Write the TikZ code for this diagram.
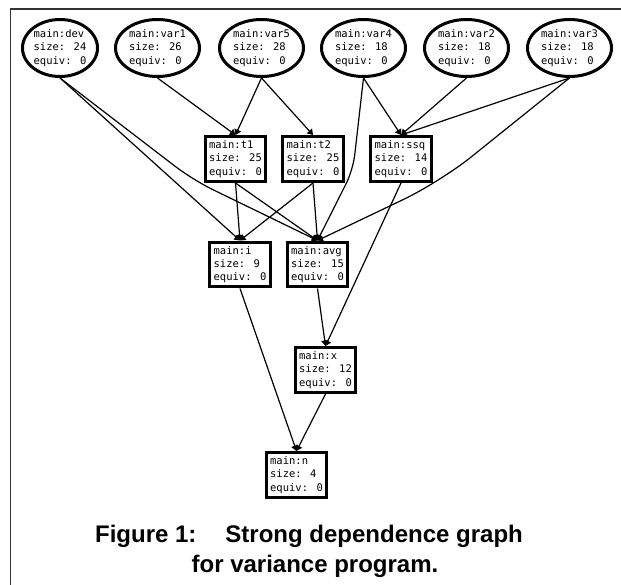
\documentclass[tikz,border=0pt]{standalone}
\usepackage{fontspec}
\newfontfamily\graphmono{DejaVu Sans Mono}
\newfontfamily\capsans{Liberation Sans}
\usetikzlibrary{arrows.meta,shapes.geometric}

\begin{document}
\begin{tikzpicture}[x=1pt,y=-1pt,
  labeltext/.style={font=\graphmono\fontsize{10.5}{13.3}\selectfont, align=left},
  var/.style={labeltext, ellipse, draw, line width=3pt, inner sep=0pt,
    minimum width=84pt, minimum height=57pt},
  stmt/.style={labeltext, rectangle, draw, line width=3.2pt,
    inner xsep=4pt, inner ysep=4pt},
  dep/.style={line width=1.2pt, -{Triangle[length=5.5pt,width=7pt]}},
  captionline/.style={anchor=base, inner sep=0pt,
    font=\capsans\bfseries\fontsize{24}{30}\selectfont},
]
\useasboundingbox (0,0) rectangle (621,585);

% page frame (top and left rules)
\draw[line width=1.2pt, black!80] (10.5,585) -- (10.5,9) -- (621,9);

% input variables
\node[var, minimum width=75pt] (dev) at (60,48) {main:dev\\size: 24\\equiv: 0};
\node[var] (var1) at (157.5,48) {main:var1\\size: 26\\equiv: 0};
\node[var] (var5) at (261.5,48) {main:var5\\size: 28\\equiv: 0};
\node[var] (var4) at (363.5,48) {main:var4\\size: 18\\equiv: 0};
\node[var] (var2) at (466.5,48) {main:var2\\size: 18\\equiv: 0};
\node[var] (var3) at (569.5,48) {main:var3\\size: 18\\equiv: 0};

% intermediate slices
\node[stmt] (t1)  at (235.5,159) {main:t1\\size: 25\\equiv: 0};
\node[stmt] (t2)  at (313,159)   {main:t2\\size: 25\\equiv: 0};
\node[stmt] (ssq) at (401,159)   {main:ssq\\size: 14\\equiv: 0};
\node[stmt] (i)   at (240,264.5) {main:i\\size: 9\\equiv: 0};
\node[stmt] (avg) at (317.5,264.5) {main:avg\\size: 15\\equiv: 0};
\node[stmt] (x)   at (325.5,370) {main:x\\size: 12\\equiv: 0};
\node[stmt] (n)   at (296.5,475) {main:n\\size: 4\\equiv: 0};

% bend points of the routed edges
\coordinate (bendA) at (193,180);
\coordinate (bendB) at (353,170);
\coordinate (bendC) at (440,182);

% dependences
\draw[dep] (dev.south) -- (i.north);
\draw[dep, rounded corners=22pt] (dev.south) -- (bendA) -- (avg.north);
\draw[dep] (var1.south) -- (t1.north);
\draw[dep] (var5.south) -- (t1.north);
\draw[dep] (var5.south) -- (t2.north);
\draw[dep, rounded corners=15pt] (var4.south) -- (bendB) -- (avg.north);
\draw[dep] (var4.south) -- (ssq.north);
\draw[dep] (var2.south) -- (ssq.north);
\draw[dep] (var3.south) -- (ssq.north);
\draw[dep, rounded corners=40pt] (var3.south) -- (bendC) -- (avg.north);
\draw[dep] (t1.south) -- (i.north);
\draw[dep] (t1.south) -- (avg.north);
\draw[dep] (t2.south) -- (i.north);
\draw[dep] (t2.south) -- (avg.north);
\draw[dep] (ssq.south) -- (x.north);
\draw[dep] (avg.south) -- (x.north);
\draw[dep] (i.south) -- (n.north);
\draw[dep] (x.south) -- (n.north);

% caption
\node[captionline] (cap1) at (309,542) {Figure 1:\hspace{29pt}Strong dependence graph};
\node[captionline] (cap2) at (315,572) {for variance program.};
\end{tikzpicture}
\end{document}
